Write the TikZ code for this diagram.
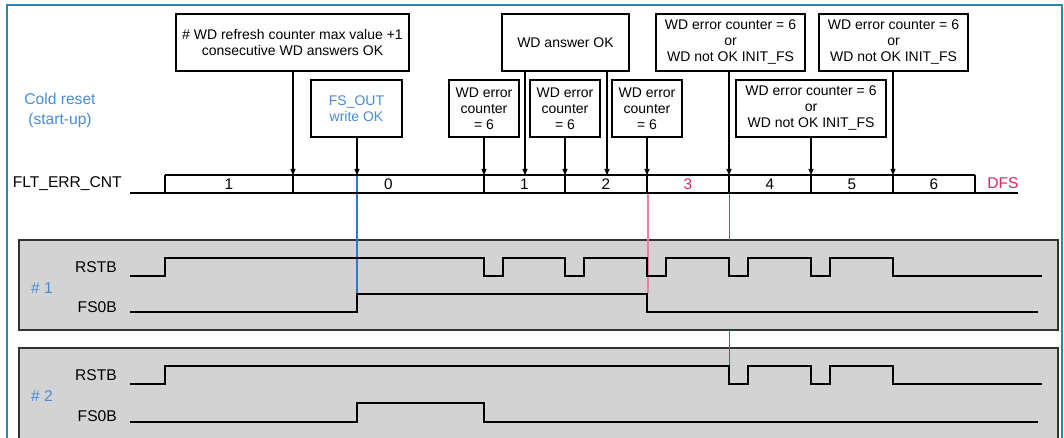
\documentclass[tikz,border=0pt]{standalone}
\usepackage{fontspec}
\setmainfont{Liberation Sans}
\usetikzlibrary{arrows.meta}
\definecolor{framec}{RGB}{47,134,166}
\definecolor{cblue}{RGB}{70,140,215}
\definecolor{lineblue}{RGB}{40,120,215}
\definecolor{crim}{RGB}{224,36,94}
\definecolor{lpink}{RGB}{240,128,160}
\definecolor{boxgray}{RGB}{211,211,211}
\begin{document}
\begin{tikzpicture}[x=0.75pt,y=-0.75pt,
  evbox/.style={draw,line width=1.3pt,fill=white,align=center,inner sep=0pt,
    minimum height=42.75pt,font=\fontsize{10.5pt}{12pt}\selectfont},
  arr/.style={line width=0.8pt,-{Triangle[length=4.5pt,width=3.8pt]}},
  sig/.style={line width=1.6pt,line join=miter},
  lbl/.style={inner sep=0pt,font=\fontsize{11.7pt}{14pt}\selectfont},
  num/.style={inner sep=0pt,font=\fontsize{11.5pt}{13pt}\selectfont},
  grp/.style={fill=boxgray,draw=black!80,line width=1.1pt}]
\useasboundingbox (0,0) rectangle (1064,438);
\clip (0,0) rectangle (1064,438);
% outer frame
\draw[framec,line width=1.1pt] (7,5) rectangle (1062,470);
% signal groups
\draw[grp] (19,240) rectangle (1058,330);
\draw[grp] (19,348) rectangle (1058,470);
% marker lines
\draw[lineblue,line width=0.9pt] (357,175) -- (357,293);
\draw[lpink,line width=0.8pt] (648,193) -- (648,293);
\draw[crim,line width=0.6pt] (729,193) -- (729,240);
\draw[crim,line width=0.6pt] (729,330) -- (729,366);
% counter bar
\coordinate (t0) at (165,175);
\coordinate (t1) at (293,175);
\coordinate (t2) at (484,175);
\coordinate (t3) at (565,175);
\coordinate (t4) at (647,175);
\coordinate (t5) at (729,175);
\coordinate (t6) at (811,175);
\coordinate (t7) at (893,175);
\coordinate (t8) at (975,175);
\coordinate (wa) at (525,175);
\coordinate (wb) at (607,175);
\coordinate (fo) at (357,175);
\draw[line width=1.4pt] (t0) -- (t8);
\draw[line width=2pt] (130,193) -- (1018,193);
\foreach \p in {t0,t1,t2,t3,t4,t5,t6,t7,t8}
  \draw[line width=2pt] (\p) -- ++(0,18);
\node[num] (n1) at (229,184) {1};
\node[num] (n0) at (388.5,184) {0};
\node[num] (n1b) at (524.5,184) {1};
\node[num] (n2) at (606,184) {2};
\node[num,text=crim] (n3) at (688,184) {3};
\node[num] (n4) at (770,184) {4};
\node[num] (n5) at (852,184) {5};
\node[num] (n6) at (934,184) {6};
\node[lbl,anchor=east] (flt) at (122,184) {FLT\_ERR\_CNT};
\node[lbl,anchor=west,text=crim] (dfs) at (987,183) {DFS};
\node[lbl,text=cblue,align=center,font=\fontsize{11.7pt}{15pt}\selectfont] (cold) at (60,110) {Cold reset\\(start-up)};
% event boxes
\node[evbox,minimum width=174.75pt] (refresh) at (292.5,42.5) {\# WD refresh counter max value +1\\consecutive WD answers OK};
\node[evbox,minimum width=95.25pt] (answer) at (565.5,42.5) {WD answer OK};
\node[evbox,minimum width=111.75pt] (errA) at (730.5,42.5) {WD error counter = 6\\or\\WD not OK INIT\_FS};
\node[evbox,minimum width=111.75pt] (errB) at (893.5,42.5) {WD error counter = 6\\or\\WD not OK INIT\_FS};
\node[evbox,minimum width=68.25pt,text=cblue] (fsout) at (356.5,108.5) {FS\_OUT\\write OK};
\node[evbox,minimum width=52.5pt] (e1) at (484,108.5) {WD error\\counter\\= 6};
\node[evbox,minimum width=52.5pt] (e2) at (565,108.5) {WD error\\counter\\= 6};
\node[evbox,minimum width=52.5pt] (e3) at (647,108.5) {WD error\\counter\\= 6};
\node[evbox,minimum width=112.5pt] (errC) at (811,108.5) {WD error counter = 6\\or\\WD not OK INIT\_FS};
% arrows
\draw[arr] (refresh.south -| t1) -- (t1);
\draw[arr] (fsout.south -| fo) -- (fo);
\draw[arr] (e1.south -| t2) -- (t2);
\draw[arr] (answer.south -| wa) -- (wa);
\draw[arr] (answer.south -| wb) -- (wb);
\draw[arr] (e2.south -| t3) -- (t3);
\draw[arr] (e3.south -| t4) -- (t4);
\draw[arr] (errA.south -| t5) -- (t5);
\draw[arr] (errC.south -| t6) -- (t6);
\draw[arr] (errB.south -| t7) -- (t7);
% group 1
\node[lbl,text=cblue] (g1) at (42,288) {\# 1};
\node[lbl,anchor=east] (rstb1) at (117,267) {RSTB};
\node[lbl,anchor=east] (fs0b1) at (117,307) {FS0B};
\draw[sig] (130,276) -- (165,276) -- (165,258) -- (484,258) -- (484,276) -- (503,276) -- (503,258)
  -- (565,258) -- (565,276) -- (584,276) -- (584,258) -- (647,258) -- (647,276) -- (666,276) -- (666,258)
  -- (729,258) -- (729,276) -- (748,276) -- (748,258) -- (811,258) -- (811,276) -- (830,276) -- (830,258)
  -- (893,258) -- (893,276) -- (1042,276);
\draw[sig] (130,312) -- (357,312) -- (357,294) -- (647,294) -- (647,312) -- (1038,312);
% group 2
\node[lbl,text=cblue] (g2) at (42,396) {\# 2};
\node[lbl,anchor=east] (rstb2) at (117,375) {RSTB};
\node[lbl,anchor=east] (fs0b2) at (117,416) {FS0B};
\draw[sig] (130,384) -- (165,384) -- (165,366) -- (729,366) -- (729,384) -- (748,384) -- (748,366)
  -- (811,366) -- (811,384) -- (830,384) -- (830,366) -- (893,366) -- (893,384) -- (1042,384);
\draw[sig] (130,422) -- (357,422) -- (357,403) -- (484,403) -- (484,422) -- (1038,422);
\end{tikzpicture}
\end{document}
